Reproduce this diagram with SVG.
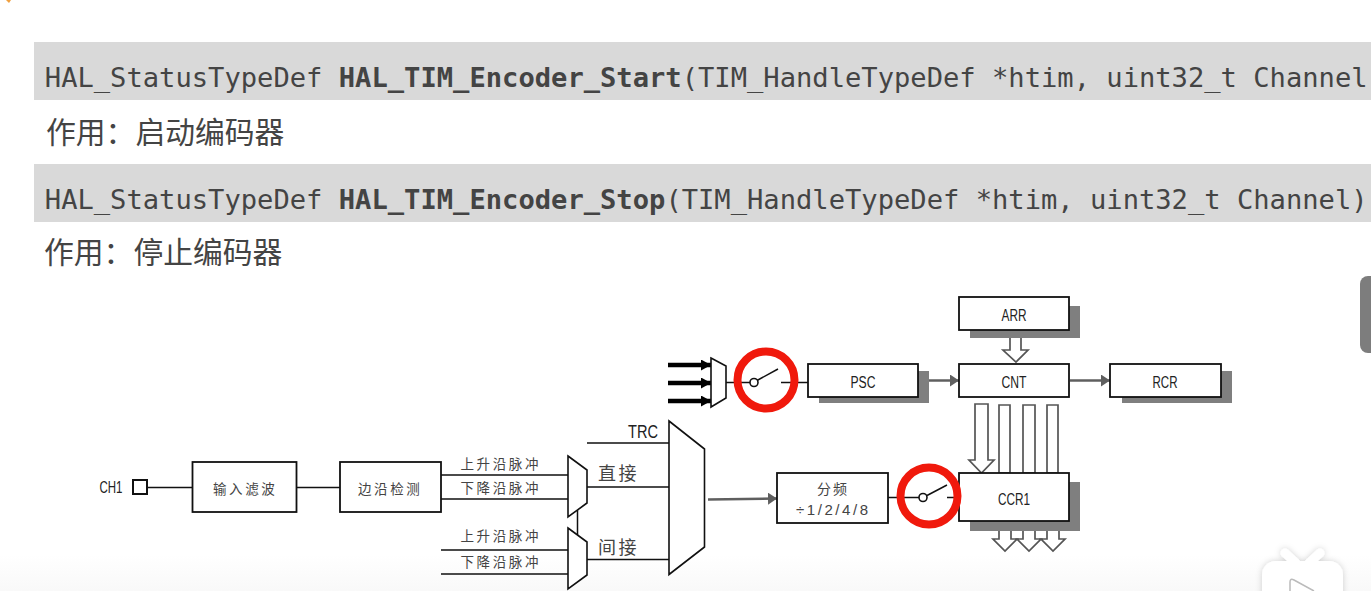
<svg xmlns="http://www.w3.org/2000/svg" width="1371" height="591" viewBox="0 0 1371 591">
<style>
.code{font-family:"DejaVu Sans Mono","Liberation Mono",monospace;font-size:27.14px;fill:#444}
.code .b{font-weight:700}
.cn{font-family:"Noto Sans CJK SC",sans-serif;font-size:29.8px;fill:#444}
.box{fill:#fff;stroke:#111;stroke-width:1.8}
.shadow{fill:#7f7f7f;stroke:none}
.lbl{font-family:"Noto Sans CJK SC","Liberation Sans",sans-serif;font-size:14px;fill:#444;letter-spacing:2px}
.lat{font-family:"Liberation Sans",sans-serif;font-size:16px;fill:#222;text-anchor:middle}
.cj{font-family:"Noto Sans CJK SC",sans-serif;font-size:13.5px;fill:#444;letter-spacing:2.6px}
.wire{fill:none;stroke:#111;stroke-width:1.5}
.gray{fill:none;stroke:#5f5f5f;stroke-width:2.6;marker-end:url(#ga)}
.thick{fill:none;stroke:#000;stroke-width:4.5;marker-end:url(#ka)}
.hollow{fill:#fff;stroke:#555;stroke-width:1.7}
.mux{fill:#fff;stroke:#111;stroke-width:1.6}
.red{fill:none;stroke:#f0190c;stroke-width:8}
.sw{fill:#fff;stroke:#111;stroke-width:1.6}
</style>
<defs>
<marker id="ga" markerUnits="userSpaceOnUse" markerWidth="9" markerHeight="12" refX="9" refY="6" orient="auto"><path d="M0 0L9 6L0 12Z" fill="#5f5f5f"/></marker>
<marker id="ka" markerUnits="userSpaceOnUse" markerWidth="10" markerHeight="11" refX="10" refY="5.500" orient="auto"><path d="M0 0L10 5.500L0 11Z" fill="#000"/></marker>
<linearGradient id="fade" x1="0" y1="0" x2="0" y2="1"><stop offset="0" stop-color="#fff"/><stop offset="1" stop-color="#f9f9f9"/></linearGradient>
<filter id="soft" x="-20%" y="-20%" width="140%" height="140%"><feDropShadow dx="0" dy="0" stdDeviation="3" flood-color="#000" flood-opacity=".18"/></filter>
</defs>
<rect width="1371" height="591" fill="#fff"/>
<rect y="555" width="1371" height="36" fill="url(#fade)"/>
<path d="M6 0h5l-2 3z" fill="#f0a040"/>

<g id="doc">
<rect x="34" y="42" width="1337" height="58" fill="#d9d9d9"/>
<rect x="34" y="164" width="1337" height="58" fill="#d9d9d9"/>
<text class="code" x="44.800" y="87" xml:space="preserve">HAL_StatusTypeDef <tspan class="b">HAL_TIM_Encoder_Start</tspan>(TIM_HandleTypeDef *htim, uint32_t Channel</text>
<text class="cn" x="46" y="143">作用：启动编码器</text>
<text class="code" x="44.800" y="209" xml:space="preserve">HAL_StatusTypeDef <tspan class="b">HAL_TIM_Encoder_Stop</tspan>(TIM_HandleTypeDef *htim, uint32_t Channel)</text>
<text class="cn" x="44" y="263">作用：停止编码器</text>
</g>

<g id="connectors">
<path class="thick" d="M668 365H711"/>
<path class="thick" d="M668 383H711"/>
<path class="thick" d="M668 401H711"/>
<path class="wire" d="M726 382.500H750M781 382.500H808M757 380.500L778 369"/>
<path class="gray" d="M918 380.500H959"/>
<path class="gray" d="M1070 380.500H1110"/>
<path class="hollow" d="M1010 334H1021V350H1028L1016 362L1003 350H1010Z"/>
<path class="hollow" d="M975 404H988V460H994L981.500 473L969 460H975Z"/>
<path class="hollow" d="M999 405H1010V473H999ZM1023 405H1035V473H1023ZM1047 405H1058V473H1047Z"/>
<path class="hollow" d="M999 530H1011V539H1017L1005 551L993 539H999Z"/>
<path class="hollow" d="M1023 530H1035V539H1041L1029 551L1017 539H1023Z"/>
<path class="hollow" d="M1047 530H1059V539H1065L1053 551L1041 539H1047Z"/>
<path class="wire" d="M147 487.500H192M297 487.500H340"/>
<path class="wire" d="M441 475H568M441 499H568M441 550H568M441 574H568"/>
<path class="wire" d="M577.500 510V536"/>
<path class="wire" d="M587 443H669M587 487H669M587 559.500H669"/>
<path class="gray" d="M708 499.500L777 498.500"/>
<path class="wire" d="M888 497.500H919M947 497.500H957M927 495.500L947 485"/>
</g>

<g id="mux-input"><path class="mux" d="M711 358L726 366V398L711 407Z"/></g>
<g id="switch-top"><circle class="sw" cx="754" cy="382.500" r="4"/></g>
<g id="switch-bottom"><circle class="sw" cx="923" cy="497.500" r="4"/></g>

<g id="node-arr"><rect class="shadow" x="970" y="306" width="110" height="32"/><rect class="box" x="959" y="297" width="110" height="33"/><text class="lat" x="1014" y="320.500" textLength="25" lengthAdjust="spacingAndGlyphs">ARR</text></g>
<g id="node-psc"><rect class="shadow" x="819" y="371" width="110" height="32"/><rect class="box" x="808" y="364" width="110" height="33"/><text class="lat" x="863" y="387.500" textLength="25" lengthAdjust="spacingAndGlyphs">PSC</text></g>
<g id="node-cnt"><rect class="box" x="959" y="364" width="110" height="33"/><text class="lat" x="1014" y="387.500" textLength="25" lengthAdjust="spacingAndGlyphs">CNT</text></g>
<g id="node-rcr"><rect class="shadow" x="1122" y="371" width="110" height="32"/><rect class="box" x="1110" y="364" width="111" height="33"/><text class="lat" x="1165" y="387.500" textLength="25" lengthAdjust="spacingAndGlyphs">RCR</text></g>
<g id="node-ccr1"><rect class="shadow" x="970" y="482" width="110" height="49"/><rect class="box" x="959" y="473" width="110" height="48"/><text class="lat" x="1014" y="504.500" textLength="32" lengthAdjust="spacingAndGlyphs">CCR1</text></g>
<g id="node-div"><rect class="box" x="777" y="473" width="111" height="50"/><text class="lbl" x="817" y="494">分频</text><text class="lat" x="832" y="515" textLength="72" lengthAdjust="spacing" style="fill:#444;font-size:15px">÷1/2/4/8</text></g>

<g id="node-ch1"><text class="lat" x="111" y="492.500" textLength="23" lengthAdjust="spacingAndGlyphs">CH1</text><rect x="133" y="480" width="14" height="14" fill="#fff" stroke="#111" stroke-width="2"/></g>
<g id="node-filter"><rect class="box" x="192.500" y="462" width="104" height="50"/><text class="cj" x="213" y="494">输入滤波</text></g>
<g id="node-edge"><rect class="box" x="340" y="462" width="101" height="50"/><text class="cj" x="358" y="494">边沿检测</text></g>

<g id="edge-labels">
<text class="cj" x="460.500" y="468.500">上升沿脉冲</text>
<text class="cj" x="460.500" y="492.500">下降沿脉冲</text>
<text class="cj" x="460.500" y="541">上升沿脉冲</text>
<text class="cj" x="460.500" y="567">下降沿脉冲</text>
<text class="lat" x="643" y="438" style="font-size:19px" textLength="30" lengthAdjust="spacingAndGlyphs">TRC</text>
<text x="598" y="480" font-family="Noto Sans CJK SC,sans-serif" font-size="18" fill="#444" letter-spacing="2.500">直接</text>
<text x="598" y="554" font-family="Noto Sans CJK SC,sans-serif" font-size="18" fill="#444" letter-spacing="2.500">间接</text>
</g>

<g id="mux-edge-a"><path class="mux" d="M568 456L587 470V503L568 517Z"/></g>
<g id="mux-edge-b"><path class="mux" d="M568 528L587 542V575L568 589Z"/></g>
<g id="mux-trc"><path class="mux" d="M669 421L704.500 449V547L669 574.500Z"/></g>

<g id="highlights">
<circle class="red" cx="766" cy="380" r="28.500"/>
<circle class="red" cx="929" cy="496" r="28.500"/>
</g>

<g id="overlay">
<path d="M1371 276h-3a8 8 0 0 0 -8 8v61a8 8 0 0 0 8 8h3Z" fill="#7d7d7d"/>
<g filter="url(#soft)">
<path d="M1285 553L1296 563M1320 553L1309 563" stroke="#fff" stroke-width="9" stroke-linecap="round" fill="none"/>
<rect x="1262" y="561" width="81" height="50" rx="14" fill="#fff"/>
</g>
<path d="M1290 591V582Q1290 578 1294 580L1314 591" fill="#fff" stroke="#bbb" stroke-width="1.500"/>
</g>
</svg>
